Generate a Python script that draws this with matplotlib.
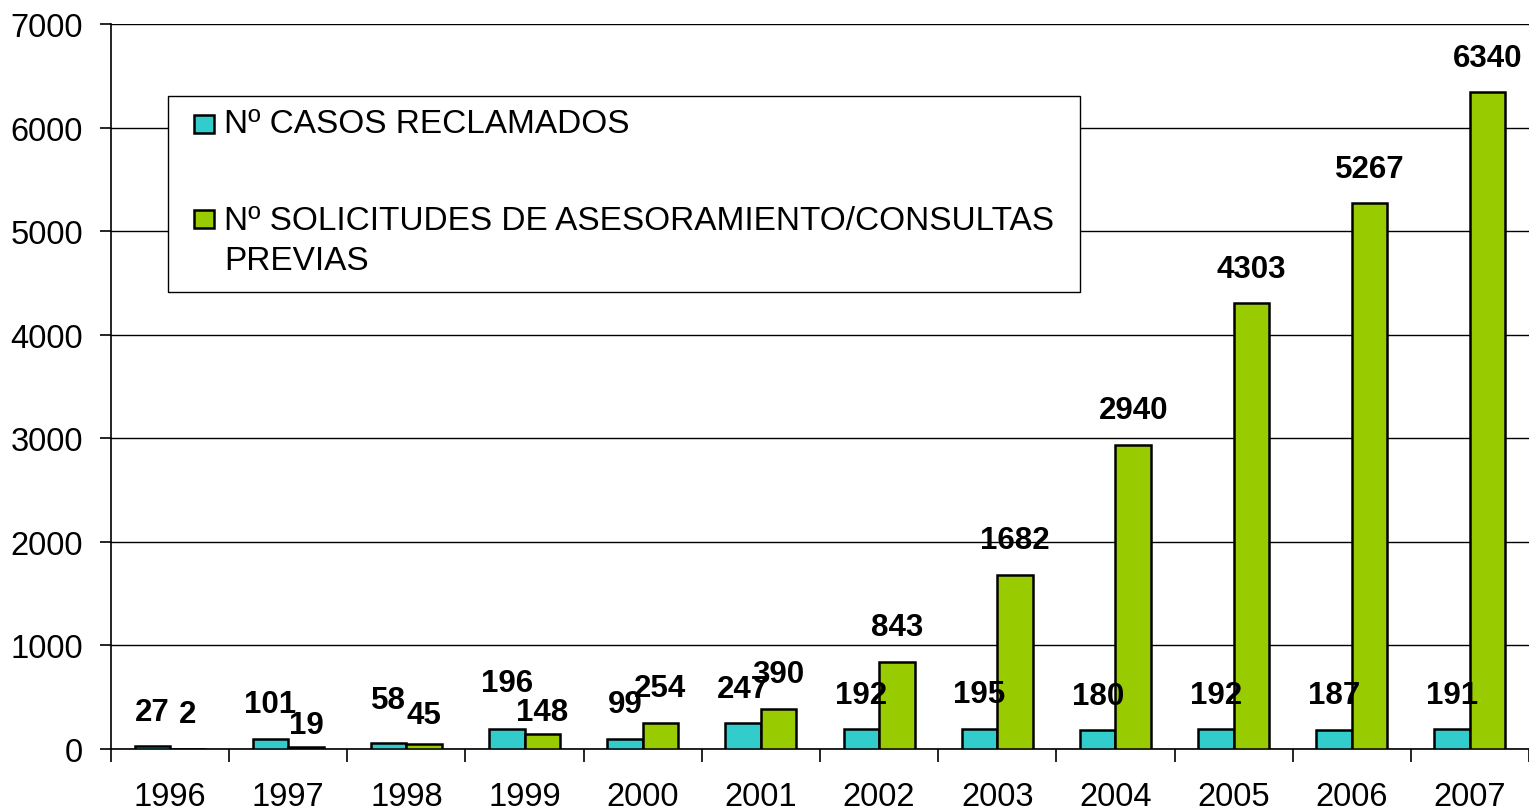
import numpy as np
import matplotlib.pyplot as plt
from matplotlib.patches import Rectangle

# datos
years = ['1996', '1997', '1998', '1999', '2000', '2001',
         '2002', '2003', '2004', '2005', '2006', '2007']
casos = [27, 101, 58, 196, 99, 247, 192, 195, 180, 192, 187, 191]
solicitudes = [2, 19, 45, 148, 254, 390, 843, 1682, 2940, 4303, 5267, 6340]

label_casos = 'Nº CASOS RECLAMADOS'
label_sol = ['Nº SOLICITUDES DE ASESORAMIENTO/CONSULTAS', 'PREVIAS']

c_casos = '#33CCCC'
c_sol = '#99CC00'

# ajustes manuales de algunas etiquetas (px), como en el original
nudge_casos = {2: 8, 3: 11}
nudge_sol = {1: -12, 2: -5, 3: -13}

plt.rcParams['font.family'] = ['Liberation Sans', 'DejaVu Sans']

fig = plt.figure(figsize=(15.29, 8.12), dpi=100)
ax = fig.add_axes([111 / 1529, 1 - 750 / 812, 1 - 111 / 1529, 725 / 812])

x = np.arange(len(years))
w = 0.3
b1 = ax.bar(x - w / 2, casos, w, color=c_casos, edgecolor='black', linewidth=1.8, zorder=3)
b2 = ax.bar(x + w / 2, solicitudes, w, color=c_sol, edgecolor='black', linewidth=1.8, zorder=3)

for bars, nudge in ((b1, nudge_casos), (b2, nudge_sol)):
    for i, r in enumerate(bars):
        off = (34.5 + nudge.get(i, 0)) * 0.72
        ax.annotate(f'{int(r.get_height())}',
                    (r.get_x() + r.get_width() / 2, r.get_height()),
                    xytext=(0, off), textcoords='offset points',
                    ha='center', va='center', fontsize=22.5, fontweight='bold', zorder=5)

ax.set_xlim(-0.5, len(years) - 0.5)
ax.set_ylim(0, 7000)
ax.set_yticks(range(0, 7001, 1000))
ax.yaxis.grid(True, color='black', linewidth=1.0, zorder=0)
ax.set_axisbelow(True)

# ticks del eje x entre categorías, etiquetas centradas
ax.set_xticks(np.arange(-0.5, len(years), 1))
ax.set_xticklabels([])
ax.set_xticks(x, minor=True)
ax.set_xticklabels(years, minor=True)
ax.tick_params(axis='x', which='major', length=9, width=1.2, direction='out')
ax.tick_params(axis='x', which='minor', length=0, pad=23, labelsize=23.5)
ax.tick_params(axis='y', length=8, width=1.2, pad=12, labelsize=23.5)

for s in ('top', 'right'):
    ax.spines[s].set_visible(False)
ax.spines['left'].set_linewidth(1.2)
ax.spines['bottom'].set_linewidth(1.2)

# leyenda dibujada a mano (caja blanca sobre la rejilla)
def fx(px):
    return px / 1529

def fy(py):
    return 1 - py / 812

fig.add_artist(Rectangle((fx(168), fy(293)), fx(1080) - fx(168), fy(97) - fy(293),
                         transform=fig.transFigure, facecolor='white',
                         edgecolor='black', linewidth=1.0, zorder=10))
fig.add_artist(Rectangle((fx(194), fy(134)), fx(20), 18 / 812,
                         transform=fig.transFigure, facecolor=c_casos,
                         edgecolor='black', linewidth=1.8, zorder=11))
fig.add_artist(Rectangle((fx(194), fy(229)), fx(20), 18 / 812,
                         transform=fig.transFigure, facecolor=c_sol,
                         edgecolor='black', linewidth=1.8, zorder=11))
fig.text(fx(224), fy(133), label_casos, ha='left', va='baseline', fontsize=24, zorder=12)
fig.text(fx(224), fy(230), label_sol[0], ha='left', va='baseline', fontsize=24, zorder=12)
fig.text(fx(224), fy(270), label_sol[1], ha='left', va='baseline', fontsize=24, zorder=12)

plt.savefig('out.png', dpi=100)
